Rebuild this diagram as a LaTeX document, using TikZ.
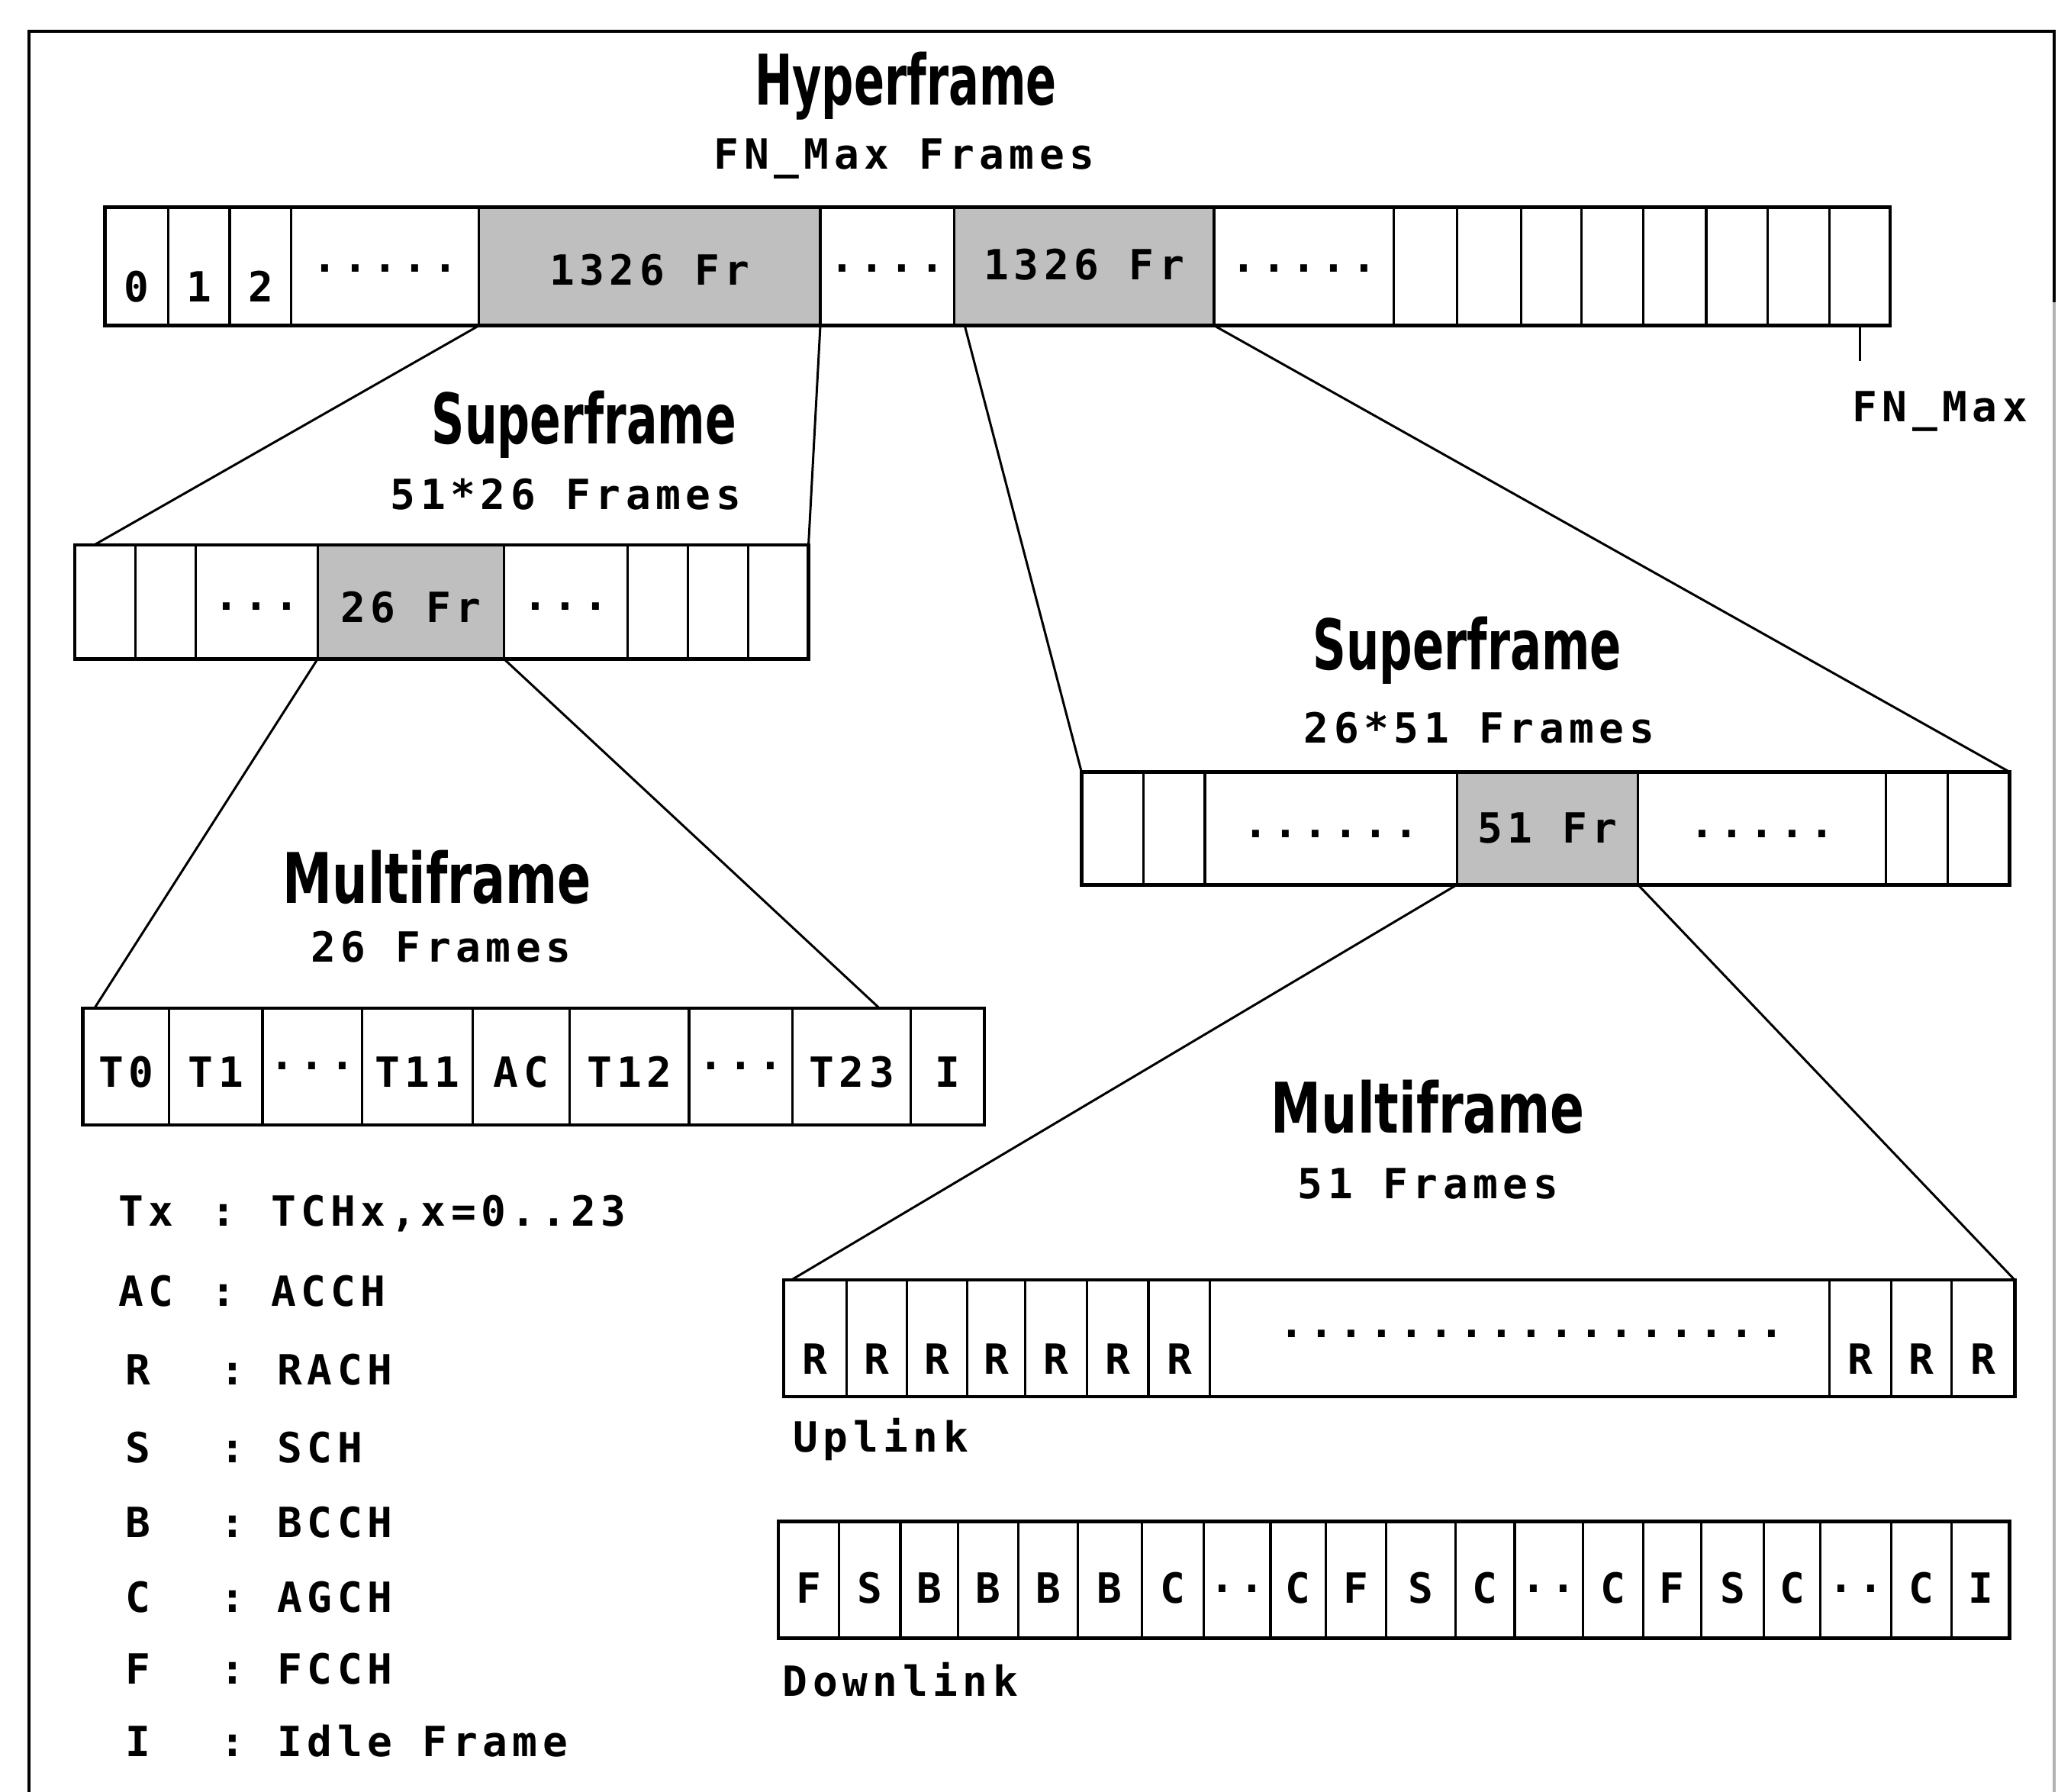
\documentclass[tikz,border=0pt]{standalone}
\usepackage{fontspec}
\usepackage{graphicx}
\newfontfamily\lblf[LetterSpace=12]{DejaVu Sans Mono}
\newfontfamily\ttlf{DejaVu Sans}
\newcommand\ttl[2]{\scalebox{#1}[1]{\ttlf\bfseries\fontsize{26}{30}\selectfont #2}}
\newcommand\cellx[6]{\node[cellbox,#6,minimum width={(#3-#2)*0.0172cm},minimum height={(#5-#4)*0.0172cm}] (#1) at ({(#2+#3)/2},{(#4+#5)/2}) {};}
\tikzset{
  cellbox/.style={draw, line width=0.9pt, inner sep=0pt, outer sep=0pt, rectangle},
  shaded/.style={fill=black!25},
  plain/.style={},
  lbl/.style={font=\lblf\bfseries\fontsize{15.5}{18}\selectfont, inner sep=0pt, anchor=base},
  lblw/.style={lbl, anchor=base west},
  ttlnode/.style={inner sep=0pt, anchor=base},
  conn/.style={line width=0.85pt},
  frameline/.style={line width=1.2pt}
}
\begin{document}
\begin{tikzpicture}[x=0.0172cm, y=-0.0172cm]
\useasboundingbox (0,0) rectangle (1568,1365);
% outer frame
\draw[frameline] (22,1365) -- (22,24) -- (1565,24) -- (1565,230);
\draw[line width=1pt, black!30] (1565,230) -- (1565,1365);

% ---------- Hyperframe ----------
\node[ttlnode] (hyt) at (690,80) {\ttl{0.646}{Hyperframe}};
\node[lbl] (hys) at (689,129) {FN\_Max Frames};
\foreach \a/\b [count=\i] in {80/128,128/175,175/222,222/365,625/727,925/1062,1062/1110,1110/1159,1159/1205,1205/1252,1252/1300,1300/1347,1347/1394,1394/1440}
  {\cellx{h\i}{\a}{\b}{158}{248}{plain}}
\cellx{hs1}{365}{625}{158}{248}{shaded}
\cellx{hs2}{727}{925}{158}{248}{shaded}
\draw[line width=1.3pt] (80,158) rectangle (1440,248);
\node[lbl] (hl0) at (104,230) {0};
\node[lbl] (hl1) at (151.5,230) {1};
\node[lbl] (hl2) at (198.5,230) {2};
\node[lbl] (hd1) at (293.5,207) {.....};
\node[lbl] (hsl1) at (495,217) {1326 Fr};
\node[lbl] (hd2) at (676,207) {....};
\node[lbl] (hsl2) at (826,213) {1326 Fr};
\node[lbl] (hd3) at (993.5,207) {.....};
\coordinate (tickend) at (1417,275);
\draw[conn] (h14.south) -- (tickend);
\node[lbl] (fnmax) at (1478,321) {FN\_Max};

% ---------- Superframe (left) ----------
\node[ttlnode] (slt) at (445,338) {\ttl{0.657}{Superframe}};
\node[lbl] (sls) at (431,388) {51*26 Frames};
\foreach \a/\b [count=\i] in {57/103,103/149,149/242,384/478,478/524,524/570,570/616}
  {\cellx{s\i}{\a}{\b}{415}{502}{plain}}
\cellx{ss}{242}{384}{415}{502}{shaded}
\draw[line width=1.3pt] (57,415) rectangle (616,502);
\node[lbl] (sd1) at (195.5,465) {...};
\node[lbl] (ssl) at (313,474) {26 Fr};
\node[lbl] (sd2) at (431,465) {...};
\coordinate (sL) at (72,415);
\draw[conn] (hs1.south west) -- (sL);
\draw[conn] (hs1.south east) -- (s7.north east);

% ---------- Multiframe (left) ----------
\node[ttlnode] (mlt) at (333,688) {\ttl{0.714}{Multiframe}};
\node[lbl] (mls) at (336,733) {26 Frames};
\foreach \a/\b [count=\i] in {63/129,129/200,200/276,276/360,360/434,434/525,525/604,604/694,694/750}
  {\cellx{m\i}{\a}{\b}{768}{857}{plain}}
\draw[line width=1.3pt] (63,768) rectangle (750,857);
\foreach \t/\x [count=\i] in {T0/96,T1/164.5,T11/318,AC/397,T12/479.5,T23/649,I/722}
  {\node[lbl] (ml\i) at (\x,828) {\t};}
\node[lbl] (md1) at (238,815) {...};
\node[lbl] (md2) at (564.5,815) {...};
\coordinate (mL) at (72,768);
\coordinate (mR) at (670,768);
\draw[conn] (ss.south west) -- (mL);
\draw[conn] (ss.south east) -- (mR);

% ---------- Superframe (right) ----------
\node[ttlnode] (srt) at (1118,510) {\ttl{0.666}{Superframe}};
\node[lbl] (srs) at (1127,566) {26*51 Frames};
\foreach \a/\b [count=\i] in {824/871,871/918,918/1110,1248/1437,1437/1484,1484/1531}
  {\cellx{r\i}{\a}{\b}{588}{674}{plain}}
\cellx{rs}{1110}{1248}{588}{674}{shaded}
\draw[line width=1.3pt] (824,588) rectangle (1531,674);
\node[lbl] (rd1) at (1014,638) {......};
\node[lbl] (rsl) at (1179,642) {51 Fr};
\node[lbl] (rd2) at (1342.5,638) {.....};
\coordinate (hs2a) at (735,248);
\draw[conn] (hs2a) -- (r1.north west);
\draw[conn] (hs2.south east) -- (r6.north east);

% ---------- Multiframe (right) ----------
\node[ttlnode] (mrt) at (1088,863) {\ttl{0.726}{Multiframe}};
\node[lbl] (mrs) at (1088,913) {51 Frames};
% uplink
\foreach \a/\b [count=\i] in {597/645,645/691,691/737,737/781,781/828,828/875,875/922,922/1394,1394/1441,1441/1487,1487/1535}
  {\cellx{u\i}{\a}{\b}{975}{1064}{plain}}
\draw[line width=1.3pt] (597,975) rectangle (1535,1064);
\foreach \x [count=\i] in {621,668,714,759,804.5,851.5,898.5,1417.5,1464,1511}
  {\node[lbl] (ul\i) at (\x,1047) {R};}
\node[lbl] (ud) at (1167,1019) {.................};
\node[lblw] (uplink) at (604,1106) {Uplink};
\coordinate (uL) at (603,975);
\draw[conn] (rs.south west) -- (uL);
\draw[conn] (rs.south east) -- (u11.north east);
% downlink
\foreach \a/\b [count=\i] in {593/639,639/686,686/730,730/776,776/821,821/870,870/917,917/968,968/1010,1010/1056,1056/1109,1109/1154,1154/1206,1206/1252,1252/1296,1296/1344,1344/1387,1387/1441,1441/1487,1487/1531}
  {\cellx{d\i}{\a}{\b}{1159}{1248}{plain}}
\draw[line width=1.3pt] (593,1159) rectangle (1531,1248);
\foreach \t/\x [count=\i] in {F/616,S/662.5,B/708,B/753,B/798.5,B/845.5,C/893.5,C/989,F/1033,S/1082.5,C/1131.5,C/1229,F/1274,S/1320,C/1365.5,C/1464,I/1509}
  {\node[lbl] (dl\i) at (\x,1221) {\t};}
\node[lbl] (dd1) at (942.5,1213) {..};
\node[lbl] (dd2) at (1180,1213) {..};
\node[lbl] (dd3) at (1414,1213) {..};
\node[lblw] (downlink) at (596,1292) {Downlink};

% ---------- Legend ----------
\foreach \s/\c/\tx/\t/\y [count=\i] in {Tx/170/206/{TCHx,x=0..23}/934, AC/170/206/ACCH/995}
  {\node[lblw] (ks\i) at (90,\y) {\s};
   \node[lbl] (kc\i) at (\c,\y) {:};
   \node[lblw] (kt\i) at (\tx,\y) {\t};}
\foreach \s/\t/\y [count=\i from 3] in {R/RACH/1055, S/SCH/1114, B/BCCH/1171, C/AGCH/1228, F/FCCH/1283, I/{Idle Frame}/1338}
  {\node[lblw] (ks\i) at (95,\y) {\s};
   \node[lbl] (kc\i) at (177,\y) {:};
   \node[lblw] (kt\i) at (211,\y) {\t};}
\end{tikzpicture}
\end{document}
